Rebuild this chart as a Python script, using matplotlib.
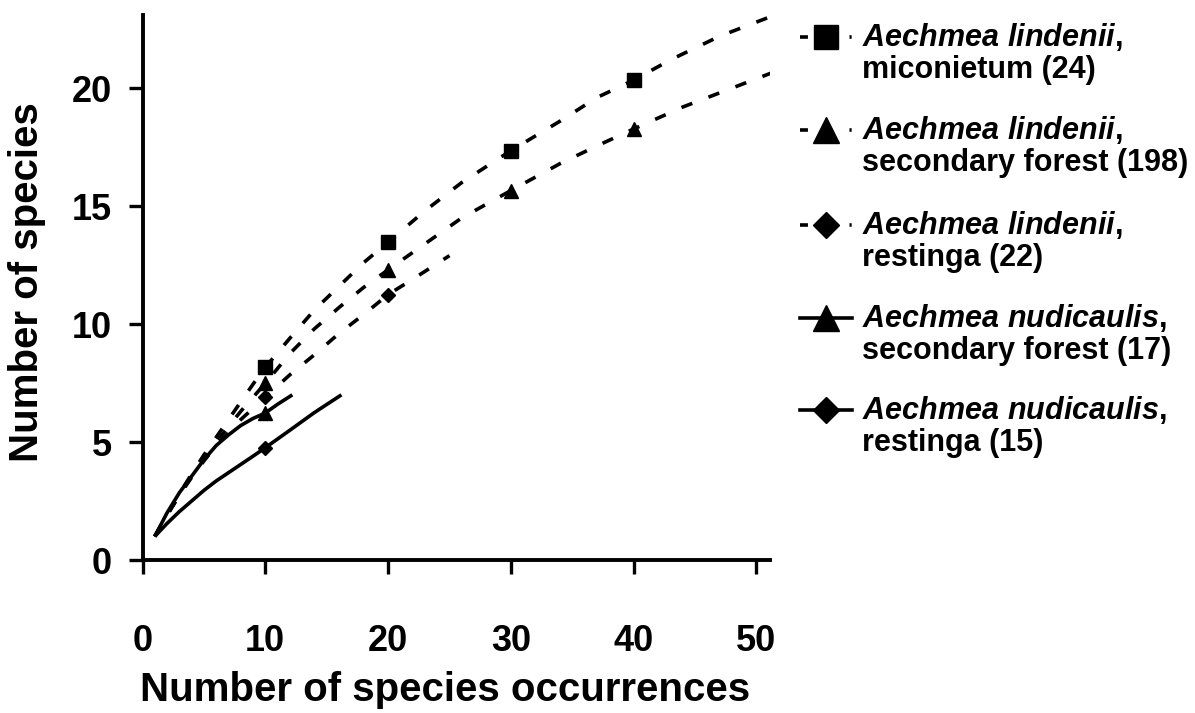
import matplotlib
matplotlib.use("Agg")
import matplotlib.pyplot as plt
from matplotlib.lines import Line2D

plt.rcParams['font.family'] = ['Liberation Sans', 'DejaVu Sans']
plt.rcParams['font.weight'] = 'bold'
plt.rcParams['mathtext.fontset'] = 'custom'
plt.rcParams['mathtext.it'] = 'Liberation Sans:italic:bold'
plt.rcParams['mathtext.rm'] = 'Liberation Sans:bold'

# rarefaction curves
lind_mic_x = [1, 2, 3, 4, 5, 6, 7, 8, 9, 10, 12, 14, 16, 18, 20, 23, 26, 30, 34, 37, 40, 43, 47, 50, 52]
lind_mic_y = [1, 1.9, 2.8, 3.65, 4.45, 5.2, 5.95, 6.7, 7.45, 8.17, 9.4, 10.6, 11.6, 12.6, 13.47,
              14.8, 16.0, 17.35, 18.6, 19.6, 20.34, 21.2, 22.2, 22.8, 23.2]

lind_sec_x = [1, 2, 3, 4, 5, 6, 8, 10, 12, 14, 16, 18, 20, 23, 26, 30, 34, 37, 40, 44, 48, 51, 52]
lind_sec_y = [1, 1.9, 2.75, 3.55, 4.3, 5.0, 6.3, 7.49, 8.75, 9.8, 10.7, 11.55, 12.3, 13.4, 14.5,
              15.66, 16.8, 17.55, 18.27, 19.2, 20.0, 20.6, 20.8]

lind_res_x = [1, 2, 3, 4, 5, 6, 8, 10, 12, 14, 16, 18, 20, 22, 25]
lind_res_y = [1, 1.9, 2.75, 3.5, 4.2, 4.85, 5.95, 6.9, 7.85, 8.7, 9.6, 10.4, 11.25, 11.9, 12.9]

nudi_sec_x = [1, 2, 3, 4, 5, 6, 7, 8, 9, 10, 11, 12.2]
nudi_sec_y = [1, 2.0, 2.85, 3.55, 4.25, 4.85, 5.3, 5.7, 6.0, 6.23, 6.6, 7.0]

nudi_res_x = [1, 2, 3, 4, 5, 6, 7, 8, 9, 10, 12, 14, 16.2]
nudi_res_y = [1, 1.55, 2.05, 2.5, 2.95, 3.35, 3.7, 4.05, 4.4, 4.76, 5.5, 6.25, 7.0]

# marked points (every 10 occurrences)
mark_x = [10, 20, 30, 40]
lind_mic_mark = [8.17, 13.47, 17.35, 20.34]
lind_sec_mark = [7.49, 12.3, 15.66, 18.27]
lind_res_mark = [6.9, 11.25]
nudi_sec_mark = [6.23]
nudi_res_mark = [4.76]

species = ['Aechmea\\ lindenii', 'Aechmea\\ lindenii', 'Aechmea\\ lindenii',
           'Aechmea\\ nudicaulis', 'Aechmea\\ nudicaulis']
habitats = ['miconietum (24)', 'secondary forest (198)', 'restinga (22)',
            'secondary forest (17)', 'restinga (15)']

W, H = 1195, 713
fig = plt.figure(figsize=(W / 100, H / 100), dpi=100)
ax = fig.add_axes([142.5 / W, 1 - 560 / H, (770 - 142.5) / W, (560 - 15) / H])

dash = (0, (3.2, 4.8))
leg_dash = (0, (2.2, 11.5, 0.6, 5))
series = [
    (lind_mic_x, lind_mic_y, lind_mic_mark, 's', dash, 9.5),
    (lind_sec_x, lind_sec_y, lind_sec_mark, '^', dash, 10.5),
    (lind_res_x, lind_res_y, lind_res_mark, 'D', dash, 7.5),
    (nudi_sec_x, nudi_sec_y, nudi_sec_mark, '^', '-', 10.5),
    (nudi_res_x, nudi_res_y, nudi_res_mark, 'D', '-', 7.5),
]
for xs, ys, ms, mk, ls, msz in series:
    ax.plot(xs, ys, color='black', lw=2.6, linestyle=ls, solid_capstyle='butt')
    ax.plot(mark_x[:len(ms)], ms, linestyle='none', marker=mk, color='black', markersize=msz)

ax.set_xlim(0, 51.1)
ax.set_ylim(0, 23.1)
ax.set_xticks([0, 10, 20, 30, 40, 50])
ax.set_yticks([0, 5, 10, 15, 20])
ax.spines[['top', 'right']].set_visible(False)
for s in ['left', 'bottom']:
    ax.spines[s].set_linewidth(2.8)
ax.tick_params(axis='both', direction='out', length=10, width=2.4, labelsize=26)
ax.tick_params(axis='x', pad=36)
ax.tick_params(axis='y', pad=12)
for lab in ax.get_xticklabels() + ax.get_yticklabels():
    lab.set_fontweight('bold')

fig.text(445 / W, 1 - 690 / H, 'Number of species occurrences', fontsize=29,
         fontweight='bold', ha='center', va='center')
fig.text(27 / W, 1 - 282 / H, 'Number of species', fontsize=29, fontweight='bold',
         ha='center', va='center', rotation=90)

# legend drawn by hand so the handle lines up with the first text line
row_y = [37, 130, 225, 318, 410]
for i, (xs, ys, ms, mk, ls, msz) in enumerate(series):
    yc = 1 - row_y[i] / H
    fig.add_artist(Line2D([800 / W, 852 / W], [yc, yc], transform=fig.transFigure,
                          color='black', lw=2.6, linestyle=leg_dash if ls != '-' else '-'))
    fig.add_artist(Line2D([826 / W], [yc], transform=fig.transFigure, color='black',
                          marker=mk, markersize=msz * 1.8, linestyle='none'))
    fig.text(862 / W, yc, '$\\mathit{' + species[i] + '}$,', fontsize=22,
             fontweight='bold', ha='left', va='center')
    fig.text(862 / W, 1 - (row_y[i] + 33) / H, habitats[i], fontsize=22,
             fontweight='bold', ha='left', va='center')

fig.savefig('out.png', dpi=100)
